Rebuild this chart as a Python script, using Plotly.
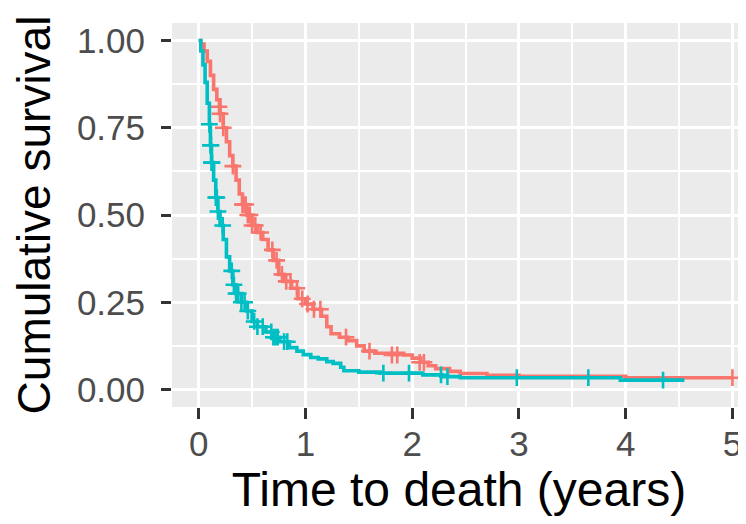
import plotly.graph_objects as go

# Group A (red) Kaplan-Meier steps
red_time = [0, 0.02, 0.05, 0.08, 0.11, 0.14, 0.17, 0.20, 0.23, 0.26, 0.29, 0.32, 0.35, 0.38,
            0.41, 0.45, 0.50, 0.55, 0.60, 0.65, 0.70, 0.75, 0.80, 0.87, 0.93, 1.00, 1.07, 1.15,
            1.20, 1.24, 1.32, 1.40, 1.48, 1.55, 1.65, 1.92, 2.00, 2.08, 2.15, 2.22, 2.35, 2.45,
            2.70, 3.00, 4.00, 5.00]
red_surv = [1.0, 0.99, 0.97, 0.94, 0.90, 0.86, 0.83, 0.79, 0.75, 0.71, 0.67, 0.64, 0.60, 0.56,
            0.53, 0.50, 0.47, 0.45, 0.43, 0.40, 0.37, 0.33, 0.31, 0.29, 0.26, 0.245, 0.23, 0.21,
            0.18, 0.16, 0.15, 0.14, 0.125, 0.11, 0.104, 0.099, 0.09, 0.078, 0.068, 0.060, 0.052, 0.046,
            0.041, 0.038, 0.034, 0.034]
red_cens_time = [0.19, 0.20, 0.23, 0.32, 0.41, 0.42, 0.44, 0.46, 0.48, 0.50, 0.53, 0.58, 0.69, 0.73,
                 0.78, 0.82, 0.86, 0.92, 0.97, 1.02, 1.08, 1.14, 1.38, 1.60, 1.81, 1.86, 2.07, 2.11, 5.00]
red_cens_surv = [0.81, 0.79, 0.75, 0.64, 0.53, 0.53, 0.53, 0.50, 0.50, 0.47, 0.47, 0.45, 0.40, 0.37,
                 0.33, 0.31, 0.31, 0.29, 0.26, 0.245, 0.23, 0.23, 0.15, 0.11, 0.099, 0.099, 0.078, 0.078, 0.034]

# Group B (teal) Kaplan-Meier steps
teal_time = [0, 0.02, 0.04, 0.06, 0.08, 0.10, 0.11, 0.12, 0.14, 0.16, 0.18, 0.20, 0.23, 0.26,
             0.29, 0.32, 0.35, 0.40, 0.45, 0.50, 0.55, 0.63, 0.70, 0.76, 0.85, 0.92, 0.98, 1.05,
             1.12, 1.20, 1.26, 1.33, 1.36, 1.50, 1.70, 2.10, 2.28, 2.45, 3.95, 4.55]
teal_surv = [1.0, 0.97, 0.93, 0.88, 0.82, 0.76, 0.70, 0.65, 0.60, 0.55, 0.51, 0.47, 0.43, 0.38,
             0.34, 0.30, 0.275, 0.25, 0.225, 0.195, 0.18, 0.165, 0.15, 0.137, 0.12, 0.11, 0.10, 0.092,
             0.088, 0.080, 0.075, 0.064, 0.054, 0.050, 0.047, 0.042, 0.037, 0.034, 0.027, 0.027]
teal_cens_time = [0.10, 0.11, 0.115, 0.12, 0.125, 0.16, 0.17, 0.18, 0.225, 0.31, 0.33, 0.35, 0.37,
                  0.40, 0.43, 0.46, 0.52, 0.55, 0.60, 0.68, 0.70, 0.72, 0.74, 0.80, 0.83,
                  1.73, 1.97, 2.27, 2.33, 2.98, 3.65, 4.35]
teal_cens_surv = [0.76, 0.70, 0.70, 0.65, 0.65, 0.55, 0.55, 0.51, 0.47, 0.34, 0.30, 0.275, 0.275,
                  0.25, 0.25, 0.225, 0.195, 0.18, 0.18, 0.165, 0.15, 0.15, 0.15, 0.137, 0.137,
                  0.047, 0.047, 0.042, 0.037, 0.034, 0.034, 0.027]

x_ticks = [0, 1, 2, 3, 4, 5]
y_ticks = [0, 0.25, 0.5, 0.75, 1.0]
y_labels = ["0.00", "0.25", "0.50", "0.75", "1.00"]

RED = "#F8766D"
TEAL = "#00BFC4"

fig = go.Figure()
for t, s, ct, cs, col in [(red_time, red_surv, red_cens_time, red_cens_surv, RED),
                          (teal_time, teal_surv, teal_cens_time, teal_cens_surv, TEAL)]:
    fig.add_trace(go.Scatter(x=t, y=s, mode="lines", line=dict(color=col, width=3.6, shape="hv"),
                             showlegend=False, hoverinfo="skip"))
    fig.add_trace(go.Scatter(x=ct, y=cs, mode="markers",
                             marker=dict(symbol="cross-thin", size=12, line=dict(color=col, width=2.6)),
                             showlegend=False, hoverinfo="skip"))

FAM = "Liberation Sans, Arial, sans-serif"
tick_font = dict(family=FAM, size=35, color="#4D4D4D")

# page body has an 8px margin: figure sized/positioned to compensate
fig.update_layout(
    width=738, height=516,
    margin=dict(l=164, r=0, t=15, b=117),
    paper_bgcolor="white", plot_bgcolor="#EBEBEB",
    xaxis=dict(range=[-0.25, 5.127], tickvals=x_ticks, ticktext=[str(v) for v in x_ticks],
               automargin=False,
               showgrid=True, gridcolor="white", gridwidth=3, zeroline=False, showline=False,
               ticks="outside", ticklen=11, tickwidth=2.6, tickcolor="#333333",
               tickfont=tick_font, ticklabelstandoff=-5,
               minor=dict(dtick=0.5, tick0=0.5, showgrid=True, gridcolor="white", gridwidth=1.5, ticks=""),
               title=dict(text="Time to death (years)", font=dict(family=FAM, size=48, color="black"),
                          standoff=4)),
    yaxis=dict(range=[-0.05, 1.05], tickvals=y_ticks, ticktext=y_labels,
               automargin=False,
               showgrid=True, gridcolor="white", gridwidth=3, zeroline=False, showline=False,
               ticks="outside", ticklen=10, tickwidth=2.6, tickcolor="#333333",
               tickfont=tick_font, ticklabelstandoff=9,
               minor=dict(dtick=0.25, tick0=0.125, showgrid=True, gridcolor="white", gridwidth=1.5, ticks=""),
               title=dict(text="Cumulative survival", font=dict(family=FAM, size=46, color="black"),
                          standoff=12)),
)

fig.write_html("out.html")
